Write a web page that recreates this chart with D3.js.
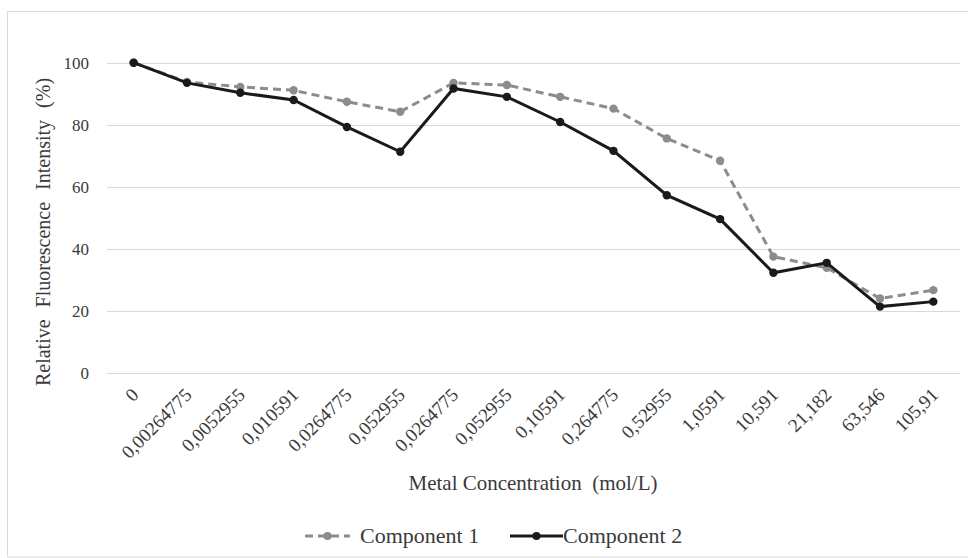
<!DOCTYPE html>
<html><head><meta charset="utf-8">
<script src="https://cdn.jsdelivr.net/npm/d3@7"></script>
<style>body{margin:0;background:#fff}svg text{font-family:"Liberation Serif","DejaVu Serif","Times New Roman",serif !important;fill:#3a3a3a}</style>
</head><body><svg id="c" width="968" height="558"></svg>
<script>
const categories = ["0","0,00264775","0,0052955","0,010591","0,0264775","0,052955","0,0264775","0,052955","0,10591","0,264775","0,52955","1,0591","10,591","21,182","63,546","105,91"];
const component1 = [100,93.8,92.2,91.1,87.4,84.2,93.5,92.8,89,85.2,75.6,68.4,37.5,33.9,24,26.7];
const component2 = [100,93.5,90.3,88,79.3,71.3,91.7,89,80.9,71.6,57.3,49.6,32.3,35.5,21.4,23];
const yTicks = [0,20,40,60,80,100];
const seriesNames = ["Component 1","Component 2"];

const FONT = "Liberation Serif, DejaVu Serif, serif";
const svg = d3.select("#c");
svg.append("rect").attr("x",7.5).attr("y",11.5).attr("width",980).attr("height",545.5)
  .attr("fill","none").attr("stroke","#d9d9d9");

const pLeft=107, pRight=960, pTop=62.7, pBottom=373;
const x = d3.scaleBand().domain(d3.range(categories.length)).range([pLeft,pRight]);
const y = d3.scaleLinear().domain([0,100]).range([pBottom,pTop]);

// gridlines
svg.append("g").selectAll("line").data(yTicks).join("line")
  .attr("x1",pLeft).attr("x2",pRight).attr("y1",d=>Math.round(y(d))+0.5).attr("y2",d=>Math.round(y(d))+0.5)
  .attr("stroke","#d9d9d9").attr("stroke-width",1);

// y axis labels
const ya = svg.append("g").attr("transform",`translate(${pLeft-18},0)`)
  .call(d3.axisLeft(y).tickValues(yTicks).tickSize(0).tickPadding(0));
ya.attr("font-family",FONT);
ya.select(".domain").remove();
ya.selectAll("text").attr("font-size",17);

// x axis labels
const xa = svg.append("g").attr("transform",`translate(0,${pBottom})`)
  .call(d3.axisBottom(x).tickFormat(i=>categories[i]).tickSize(0).tickPadding(0));
xa.attr("font-family",FONT);
xa.select(".domain").remove();
xa.selectAll("text").attr("font-size",19)
  .attr("text-anchor","end").attr("dy",0).attr("y",0)
  .attr("transform","translate(6,23) rotate(-45)");

// titles
svg.append("text").attr("transform",`translate(50,232) rotate(-90)`)
  .attr("text-anchor","middle").attr("font-size",20).attr("font-family",FONT)
  .attr("word-spacing",1).style("white-space","pre")
  .text("Relative  Fluorescence  Intensity  (%)");
svg.append("text").attr("x",533).attr("y",490).attr("text-anchor","middle").attr("font-size",21)
  .attr("font-family",FONT).style("white-space","pre").text("Metal Concentration  (mol/L)");

const cx = i => x(i)+x.bandwidth()/2;
const line = d3.line().x((d,i)=>cx(i)).y(d=>y(d));
const styles = [
  {data:component1,color:"#8c8c8c",dash:"8,5",r:4.2},
  {data:component2,color:"#1a1a1a",dash:null,r:4.2}
];
styles.forEach(s=>{
  svg.append("path").datum(s.data).attr("d",line).attr("fill","none")
    .attr("stroke",s.color).attr("stroke-width",3).attr("stroke-dasharray",s.dash);
  svg.append("g").selectAll("circle").data(s.data).join("circle")
    .attr("cx",(d,i)=>cx(i)).attr("cy",d=>y(d)).attr("r",s.r).attr("fill",s.color);
});

// legend
const leg = [{x:305,w:45,tx:55,s:styles[0],name:seriesNames[0]},{x:510,w:53,tx:53,s:styles[1],name:seriesNames[1]}];
leg.forEach(l=>{
  const g = svg.append("g").attr("transform",`translate(${l.x},536)`);
  g.append("line").attr("x1",0).attr("x2",l.w).attr("y1",0).attr("y2",0)
    .attr("stroke",l.s.color).attr("stroke-width",3).attr("stroke-dasharray",l.s.dash);
  g.append("circle").attr("cx",l.w/2).attr("cy",0).attr("r",4).attr("fill",l.s.color);
  g.append("text").attr("x",l.tx).attr("y",7).attr("font-size",22).attr("font-family",FONT).text(l.name);
});
</script></body></html>
